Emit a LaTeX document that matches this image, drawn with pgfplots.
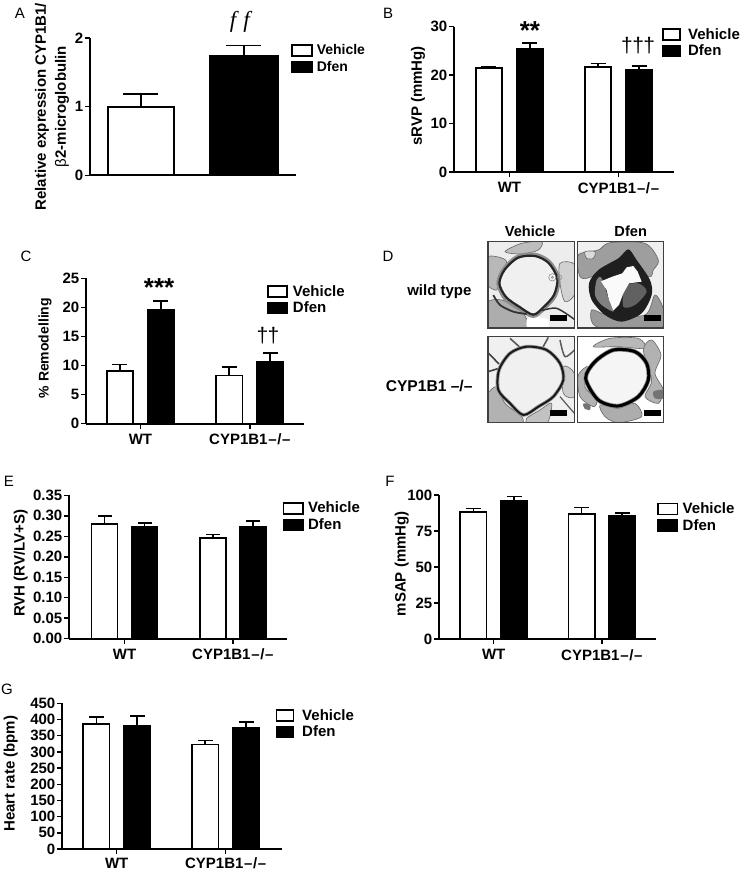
\documentclass[border=0pt]{standalone}
\usepackage{fontspec}
\setmainfont{Liberation Sans}
\newfontfamily\serifit{Liberation Serif}
\usepackage{pgfplots}
\pgfplotsset{compat=1.18}
\newcommand{\cyp}{CYP1B1\kern0.8pt–\kern0.6pt/\kern0.6pt–}
\newcommand{\fs}[1]{\fontsize{#1}{#1}\selectfont}
\tikzset{blob/.style={fill=black!#1,draw=black!60,line width=0.6pt}}
\pgfplotsset{
  panel/.style={
    scale only axis, anchor=south west,
    axis x line*=bottom, axis y line*=left, clip=false,
    ymin=0, xtick={0,1}, xticklabels={WT,\cyp},
    axis line style={line width=1.8pt,-},
    tick style={line width=1.5pt,black},
    tick align=outside, major tick length=5pt,
    tick label style={font=\fs{15}\bfseries},
    yticklabel style={inner sep=1.5pt},
    xticklabel style={inner sep=2pt,yshift=-3pt},
    every axis y label/.append style={font=\fs{15}\bfseries},
  },
  leg/.style n args={4}{
    legend image code/.code={\path (#3+#4,0pt); \draw[##1,line width=1.6pt] (0pt,-5.5pt) rectangle (#3,5.5pt);},
    legend style={at={(axis description cs:#1,#2)},anchor=north west,draw=none,fill=none,
      inner sep=0pt,font=\fs{15}\bfseries,nodes={inner sep=0pt},row sep=4pt},
    legend cell align=left,
  },
  veh/.style={ybar,draw=black,fill=white,line width=1.8pt,
    error bars/y dir=plus,error bars/y explicit,
    error bars/error bar style={line width=1.6pt,black},
    error bars/error mark options={rotate=90,mark size=#1,line width=1.6pt,black}},
  dfe/.style={ybar,draw=black,fill=black,line width=1.8pt,
    error bars/y dir=plus,error bars/y explicit,
    error bars/error bar style={line width=1.6pt,black},
    error bars/error mark options={rotate=90,mark size=#1,line width=1.6pt,black}},
}
\begin{document}
\begin{tikzpicture}
\useasboundingbox (0pt,0pt) rectangle (742pt,-871pt);
% panel letters
\foreach \t/\x/\y in {A/20/13,B/388/13,C/26/256,D/388/256,E/9/481,F/390/481,G/7/689}
  \node[font=\fs{15},inner sep=0pt] at (\x pt,-\y pt) {\t};

% panel D (micrographs)
\begin{scope}[shift={(485pt,-240pt)},x=0.3333pt,y=-0.3333pt]
  % box 1
  \begin{scope}
    \clip (9,5) rectangle (268,264);
    \fill[black!7] (9,5) rectangle (268,264);
    \path[blob=28] plot[smooth cycle] coordinates {(5,55)(35,50)(65,65)(45,110)(35,150)(5,130)};
    \path[blob=32] plot[smooth cycle] coordinates {(5,190)(50,180)(110,215)(125,262)(5,270)};
    \fill[white] plot[smooth cycle] coordinates {(128,235)(165,232)(190,240)(185,270)(130,270)};
    \path[blob=26] plot[smooth cycle] coordinates {(60,35)(110,10)(170,5)(160,30)(110,42)};
    \path[blob=18] plot[smooth cycle] coordinates {(225,70)(270,75)(270,160)(240,185)(225,130)};
    \fill[black!6] plot[smooth cycle] coordinates {(45,130)(60,90)(100,55)(150,50)(190,70)(215,115)(205,165)(175,200)(145,222)(105,200)(65,170)};
    \draw[black!45,line width=4pt] plot[smooth cycle] coordinates {(40,130)(57,87)(98,50)(150,44)(193,66)(220,115)(210,167)(178,204)(145,228)(102,205)(60,175)};
    \draw[black!85,line width=2.2pt] plot[smooth cycle] coordinates {(43,130)(59,89)(99,53)(150,48)(191,69)(217,115)(207,165)(176,201)(145,224)(104,201)(63,171)};
    \draw[black!80,line width=1.8pt] plot[smooth] coordinates {(25,165)(45,195)(85,215)(125,222)};
    \draw[black!80,line width=1.5pt] plot[smooth] coordinates {(170,212)(215,205)(268,238)};
    \draw[black!50,line width=0.5pt] (202,112) circle (11) (202,112) circle (3);
    \draw[black!45,line width=0.5pt] (224,112) circle (7);
  \end{scope}
  % box 2
  \begin{scope}
    \clip (277,5) rectangle (536,264);
    \fill[black!6] (277,5) rectangle (536,264);
    \path[blob=38] plot[smooth cycle] coordinates {(280,45)(340,30)(375,8)(480,10)(520,60)(505,90)(490,110)(400,60)(320,110)(285,110)};
    \path[blob=40] plot[smooth cycle] coordinates {(320,210)(370,225)(480,225)(510,165)(536,210)(530,262)(340,262)};
    \path[blob=14] plot[smooth cycle] coordinates {(300,35)(330,35)(325,55)(305,55)};
    \fill[black!88] plot[smooth cycle] coordinates {(312,130)(340,90)(400,55)(430,28)(455,60)(495,120)(500,165)(470,220)(410,245)(360,225)(320,180)};
    \fill[black!50] plot[smooth cycle] coordinates {(335,120)(350,115)(375,190)(385,215)(350,195)(330,165)};
    \fill[black!62] plot[smooth cycle] coordinates {(420,140)(460,130)(485,155)(450,195)(415,200)};
    \fill[black!2] (348,124)--(382,110)--(412,100)--(425,82)--(445,78)--(458,95)--(470,125)--(432,130)--(415,160)--(402,195)--(385,212)--(372,180)--(365,150)--cycle;
  \end{scope}
  % box 3
  \begin{scope}
    \clip (9,290) rectangle (268,548);
    \fill[black!6] (9,290) rectangle (268,548);
    \path[blob=30] plot[smooth cycle] coordinates {(5,470)(35,440)(60,490)(110,530)(105,552)(5,552)};
    \path[blob=24] plot[smooth cycle] coordinates {(125,535)(165,510)(200,490)(185,552)(130,552)};
    \path[blob=20] plot[smooth cycle] coordinates {(235,380)(268,400)(268,470)(235,460)};
    \draw[black!75,line width=1.6pt] (9,338)--(42,372) (9,395)--(42,385);
    \draw[black!65,line width=1.6pt] (75,295)--(105,322) (190,292)--(172,325);
    \draw[black!65,line width=1.5pt] plot[smooth] coordinates {(225,300)(240,350)(268,330)};
    \draw[black!65,line width=1.2pt] plot[smooth] coordinates {(225,470)(268,520)};
    \fill[black!6] plot[smooth cycle] coordinates {(42,390)(75,340)(125,320)(185,330)(225,370)(235,420)(205,470)(160,500)(115,525)(75,490)(40,450)};
    \draw[black!40,line width=3.6pt] plot[smooth cycle] coordinates {(42,390)(75,340)(125,320)(185,330)(225,370)(235,420)(205,470)(160,500)(115,525)(75,490)(40,450)};
    \draw[black!90,line width=2pt] plot[smooth cycle] coordinates {(42,390)(75,340)(125,320)(185,330)(225,370)(235,420)(205,470)(160,500)(115,525)(75,490)(40,450)};
  \end{scope}
  % box 4
  \begin{scope}
    \clip (277,290) rectangle (536,548);
    \fill[white] (277,290) rectangle (536,548);
    \path[blob=28] plot[smooth cycle] coordinates {(325,320)(375,295)(460,295)(480,325)(400,320)};
    \path[blob=30] plot[smooth cycle] coordinates {(280,405)(310,380)(300,440)(335,480)(325,500)(285,470)};
    \path[blob=30] plot[smooth cycle] coordinates {(475,330)(500,300)(528,345)(510,400)(535,450)(520,490)(480,470)(500,420)};
    \path[blob=32] plot[smooth cycle] coordinates {(345,495)(400,505)(450,490)(470,530)(400,548)(360,530)};
    \fill[black!55] plot[smooth cycle] coordinates {(295,490)(315,495)(315,510)(298,505)};
    \fill[black!55] plot[smooth cycle] coordinates {(505,455)(535,450)(535,475)(510,475)};
    \fill[black!4] plot[smooth cycle] coordinates {(302,415)(330,365)(385,330)(450,335)(485,370)(490,420)(460,470)(400,498)(340,480)};
    \draw[black!45,line width=4.5pt] plot[smooth cycle] coordinates {(302,415)(330,365)(385,330)(450,335)(485,370)(490,420)(460,470)(400,498)(340,480)};
    \draw[black,line width=3pt] plot[smooth cycle] coordinates {(302,415)(330,365)(385,330)(450,335)(485,370)(490,420)(460,470)(400,498)(340,480)};
  \end{scope}
  % frames and scale bars
  \foreach \a/\b/\c/\d in {9/5/268/264,277/5/536/264,9/290/268/548,277/290/536/548}
    \draw[black!75,line width=1.1pt] (\a,\b) rectangle (\c,\d);
  \foreach \a/\b in {195/225,478/225,195/509,478/509}
    \fill[black] (\a,\b) rectangle (\a+50,\b+18);
\end{scope}
\node[font=\fs{14.6}\bfseries] at (530pt,-231pt) {Vehicle};
\node[font=\fs{14.6}\bfseries] at (630.7pt,-231pt) {Dfen};
\node[font=\fs{15}\bfseries,anchor=east,inner sep=0pt] at (471.7pt,-291.7pt) {wild type};
\node[font=\fs{15.6}\bfseries,anchor=east,inner sep=0pt] at (472.7pt,-385.7pt) {CYP1B1 –/–};

% panel A
\begin{axis}[panel,at={(90pt,-175.3pt)},width=206pt,height=137.3pt,ymax=2,
  xmin=-0.495,xmax=1.505,xtick=\empty,ytick={0,1,2},yticklabels={0,1,2},
  leg={0.975}{0.956}{20pt}{4pt},
  legend style={font=\fs{14}\bfseries},
  ylabel={Relative expression CYP1B1/\\{\mdseries β}2-microglobulin},
  y label style={at={(axis description cs:-0.184,0.5)},anchor=center,align=center,font=\fontsize{15}{20}\selectfont\bfseries}]
\addplot[veh=17.5pt,bar width=66.5pt] coordinates {(0,1.00) +- (0,0.18)};
\addlegendentry{Vehicle}
\addplot[dfe=17.5pt,bar width=68pt] coordinates {(1,1.74) +- (0,0.15)};
\addlegendentry{Dfen}
\node[font=\fs{23}\serifit\itshape] at (axis cs:0.96,2.23) {f\kern7pt f};
\end{axis}

% panel B
\begin{axis}[panel,at={(454pt,-172pt)},width=220pt,height=145.3pt,ymax=30,
  xmin=-0.509,xmax=1.509,ytick={0,10,20,30},yticklabels={0,10,20,30},
  leg={0.9465}{0.991}{17pt}{7pt},
  ylabel={sRVP (mmHg)},
  y label style={at={(axis description cs:-0.164,0.523)},anchor=center}]
\addplot[veh=7.5pt,bar width=26.4pt] coordinates {(-0.188,21.4) +- (0,0.4) (0.812,21.7) +- (0,0.7)};
\addlegendentry{Vehicle}
\addplot[dfe=7.5pt,bar width=26.4pt] coordinates {(0.188,25.5) +- (0,1.1) (1.188,21.1) +- (0,0.8)};
\addlegendentry{Dfen}
\node[font=\fs{26}\bfseries] at (axis cs:0.188,29.3) {**};
\node[font=\fs{21}] at (axis cs:1.18,26.2) {†\kern-0.6pt†\kern-0.6pt†};
\end{axis}

% panel C
\begin{axis}[panel,at={(86pt,-423.7pt)},width=218pt,height=145.4pt,ymax=25,
  xmin=-0.4986,xmax=1.496,ytick={0,5,...,25},yticklabels={0,5,10,15,20,25},
  leg={0.8304}{0.954}{19pt}{5pt},
  ylabel={\fs{14}\% Remodelling},
  y label style={at={(axis description cs:-0.188,0.52)},anchor=center}]
\addplot[veh=7.5pt,bar width=26.4pt] coordinates {(-0.1876,9.0) +- (0,1.15) (0.8124,8.3) +- (0,1.4)};
\addlegendentry{Vehicle}
\addplot[dfe=7.5pt,bar width=26.4pt] coordinates {(0.1876,19.55) +- (0,1.6) (1.1876,10.55) +- (0,1.6)};
\addlegendentry{Dfen}
\node[font=\fs{26}\bfseries] at (axis cs:0.17,23.4) {***};
\node[font=\fs{21}] at (axis cs:1.166,15.1) {†\kern-0.6pt†};
\end{axis}

% panel E
\begin{axis}[panel,at={(69pt,-638.7pt)},width=217.7pt,height=143.4pt,ymax=0.35,
  xmin=-0.513,xmax=1.498,ytick={0,0.05,0.10,0.15,0.20,0.25,0.30,0.35},
  yticklabels={0.00,0.05,0.10,0.15,0.20,0.25,0.30,0.35},
  leg={0.9814}{0.955}{19.6pt}{4pt},
  ylabel={RVH (RV/LV+S)},
  y label style={at={(axis description cs:-0.222,0.526)},anchor=center}]
\addplot[veh=7pt,bar width=26pt] coordinates {(-0.1847,0.280) +- (0,0.020) (0.8153,0.245) +- (0,0.009)};
\addlegendentry{Vehicle}
\addplot[dfe=7pt,bar width=26pt] coordinates {(0.1847,0.2727) +- (0,0.009) (1.1847,0.2735) +- (0,0.014)};
\addlegendentry{Dfen}
\end{axis}

% panel F
\begin{axis}[panel,at={(439pt,-639pt)},width=217pt,height=144pt,ymax=100,
  xmin=-0.506,xmax=1.501,ytick={0,25,50,75,100},yticklabels={0,25,50,75,100},
  leg={1.0034}{0.949}{19.6pt}{4.5pt},
  ylabel={mSAP (mmHg)},
  y label style={at={(axis description cs:-0.172,0.523)},anchor=center}]
\addplot[veh=7.5pt,bar width=26.2pt] coordinates {(-0.1878,88.2) +- (0,2.5) (0.8122,87.0) +- (0,4.2)};
\addlegendentry{Vehicle}
\addplot[dfe=7.5pt,bar width=26.2pt] coordinates {(0.1878,95.6) +- (0,3.5) (1.1878,85.4) +- (0,2.3)};
\addlegendentry{Dfen}
\end{axis}

% panel G
\begin{axis}[panel,at={(62pt,-849pt)},width=219.7pt,height=145.7pt,ymax=450,
  xmin=-0.502,xmax=1.514,ytick={0,50,...,450},yticklabels={0,50,100,150,200,250,300,350,400,450},
  xticklabel style={yshift=1.5pt},
  leg={0.9724}{0.961}{16.7pt}{8pt},
  ylabel={Heart rate (bpm)},
  y label style={at={(axis description cs:-0.2335,0.517)},anchor=center}]
\addplot[veh=7.5pt,bar width=26.4pt] coordinates {(-0.1872,387) +- (0,21) (0.8128,323) +- (0,11.6)};
\addlegendentry{Vehicle}
\addplot[dfe=7.5pt,bar width=26.4pt] coordinates {(0.1872,380) +- (0,30) (1.1872,374.7) +- (0,17.3)};
\addlegendentry{Dfen}
\end{axis}
\end{tikzpicture}
\end{document}
